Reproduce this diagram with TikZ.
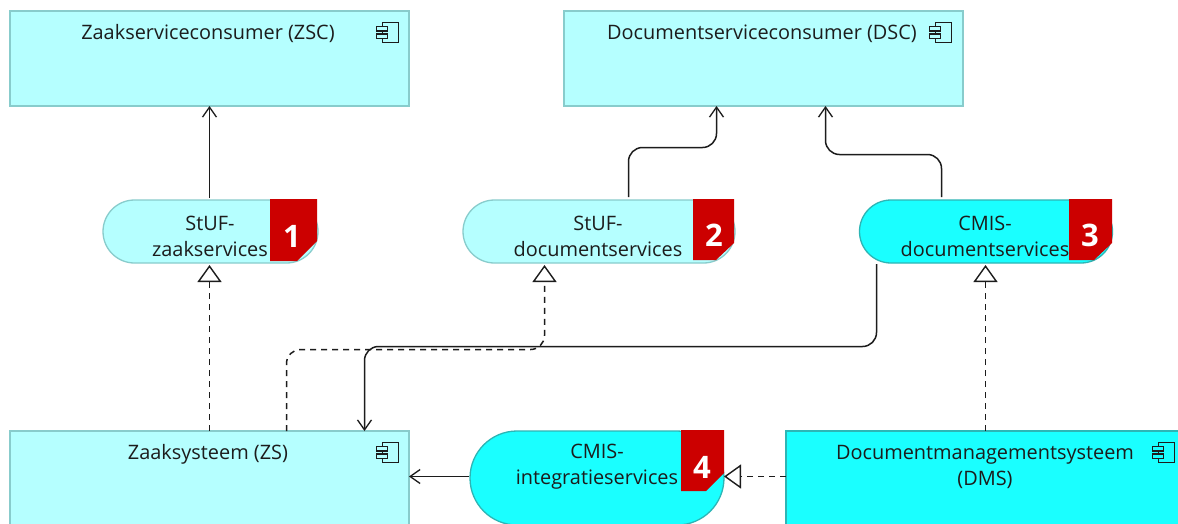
\documentclass[tikz,border=0pt]{standalone}
\usepackage{fontspec}
\setmainfont{Open Sans}
\usetikzlibrary{arrows.meta,shapes.misc,calc}
\definecolor{lightc}{HTML}{B5FFFF}
\definecolor{cyanc}{HTML}{1AFFFF}
\definecolor{edgec}{HTML}{88CCCC}
\definecolor{edged}{HTML}{2DB5B5}
\definecolor{redc}{HTML}{CC0000}
\definecolor{inkc}{HTML}{1C1C1C}
\tikzset{
  x=1pt,y=-1pt,
  boxn/.style={draw=edgec,fill=lightc,line width=1.3pt,rectangle,inner sep=0pt,outer sep=0pt,minimum width=399pt},
  pilln/.style={rounded rectangle,inner sep=0pt,outer sep=0pt,line width=1.3pt,draw=edgec,fill=lightc},
  pilld/.style={pilln,draw=edged,fill=cyanc},
  lbl/.style={font=\fontsize{19.9}{26}\selectfont,text=inkc,align=center,inner sep=0pt},
  badge/.style={fill=redc,draw=none},
  digit/.style={font=\fontsize{31}{32}\selectfont\bfseries,text=white,inner sep=0pt},
  flow/.style={draw=inkc,line width=1.5pt,rounded corners=14pt,-{Straight Barb[length=10pt,width=14pt,line width=1.3pt]}},
  real/.style={draw=inkc,line width=1.5pt,dash pattern=on 6pt off 5pt,rounded corners=14pt,-{Triangle[open,fill=white,length=17pt,width=24pt,line width=1.4pt]}},
  compicon/.pic={
    \draw[inkc,line width=1.5pt] (-16,-10) rectangle (0,10);
    \draw[inkc,line width=1.5pt,fill=lightc] (-22,-6) rectangle (-11,-1.5);
    \draw[inkc,line width=1.5pt,fill=lightc] (-22,1.5) rectangle (-11,6);
  },
  compiconb/.pic={
    \draw[inkc,line width=1.5pt] (-16,-10) rectangle (0,10);
    \draw[inkc,line width=1.5pt,fill=cyanc] (-22,-6) rectangle (-11,-1.5);
    \draw[inkc,line width=1.5pt,fill=cyanc] (-22,1.5) rectangle (-11,6);
  }
}
\begin{document}
\begin{tikzpicture}
\clip (0,0) rectangle (1178,523);
\fill[white] (0,0) rectangle (1178,523);

% elements
\node[boxn,minimum height=95pt] (zsc) at (209.5,58.5) {};
\node[boxn,minimum height=95pt] (dsc) at (763.5,58.5) {};
\node[boxn,minimum height=95pt] (zs) at (209.5,478.5) {};
\node[boxn,draw=edged,fill=cyanc,minimum height=95pt] (dms) at (985.5,478.5) {};

\node[pilln,minimum width=215pt,minimum height=63pt] (p1) at (210.5,231.5) {};
\node[pilln,minimum width=272pt,minimum height=63pt] (p2) at (599,231.5) {};
\node[pilld,minimum width=253pt,minimum height=63pt] (p3) at (986,231.5) {};
\node[pilld,minimum width=254pt,minimum height=94pt] (p4) at (597,478) {};

% labels
\node[lbl] (t1) at (208,34) {Zaakserviceconsumer (ZSC)};
\node[lbl] (t2) at (762,34) {Documentserviceconsumer (DSC)};
\node[lbl] (t3) at (208,454) {Zaaksysteem (ZS)};
\node[lbl] (t4) at (985,467) {Documentmanagementsysteem\\(DMS)};
\node[lbl] (t5) at (210,236) {StUF-\\zaakservices};
\node[lbl] (t6) at (598,236) {StUF-\\documentservices};
\node[lbl] (t7) at (985,236) {CMIS-\\documentservices};
\node[lbl] (t8) at (597,467) {CMIS-\\integratieservices};

% component icons
\pic at (398.5,32.5) {compicon};
\pic at (951.5,32.5) {compicon};
\pic at (398.5,452.5) {compicon};
\pic at (1174.5,452.5) {compiconb};

% badges
\fill[badge] (270,199) -- (317,199) -- (317,241) -- (297,261) -- (270,261) -- cycle;
\node[digit] (b1) at (292,236) {1};
\fill[badge] (693,199) -- (734,199) -- (734,243) -- (716,260) -- (693,260) -- cycle;
\node[digit] (b2) at (714,235) {2};
\fill[badge] (1069,199) -- (1112,199) -- (1112,243) -- (1094,260) -- (1069,260) -- cycle;
\node[digit] (b3) at (1090,235) {3};
\fill[badge] (681,430) -- (724,430) -- (724,473) -- (706,491) -- (681,491) -- cycle;
\node[digit] (b4) at (702,467) {4};

% connector x positions
\coordinate (xa) at (209.5,0);
\coordinate (xb) at (628.5,0);
\coordinate (xc) at (716.5,0);
\coordinate (xd) at (941.5,0);
\coordinate (xe) at (825.5,0);
\coordinate (xf) at (876.5,0);
\coordinate (xg) at (364.5,0);
\coordinate (xh) at (286.5,0);
\coordinate (xi) at (544.5,0);
\coordinate (xj) at (985.5,0);
\coordinate (ya) at (0,147.5);
\coordinate (yb) at (0,154.5);
\coordinate (yc) at (0,346.5);
\coordinate (yd) at (0,349.5);
\coordinate (ye) at (0,476.5);

% connectors
\draw[flow] ($(p1.north -| xa)+(0,-2)$) -- (zsc.south -| xa);
\draw[flow] ($(p2.north -| xb)+(0,-3)$) -- (xb |- ya) -- (xc |- ya) -- (dsc.south -| xc);
\draw[flow] ($(p3.north -| xd)+(0,-3)$) -- (xd |- yb) -- (xe |- yb) -- (dsc.south -| xe);
\draw[flow] ($(p3.south -| xf)+(0,1)$) -- (xf |- yc) -- (xg |- yc) -- (zs.north -| xg);
\draw[flow] ($(p4.west |- ye)+(-1,0)$) -- (zs.east |- ye);
\draw[real] (zs.north -| xa) -- ($(p1.south -| xa)+(0,2)$);
\draw[real] (zs.north -| xh) -- (xh |- yd) -- (xi |- yd) -- ($(p2.south -| xi)+(0,2)$);
\draw[real] (dms.north -| xj) -- ($(p3.south -| xj)+(0,2)$);
\draw[real] (dms.west |- ye) -- ($(p4.east |- ye)+(0,0)$);
\end{tikzpicture}
\end{document}
